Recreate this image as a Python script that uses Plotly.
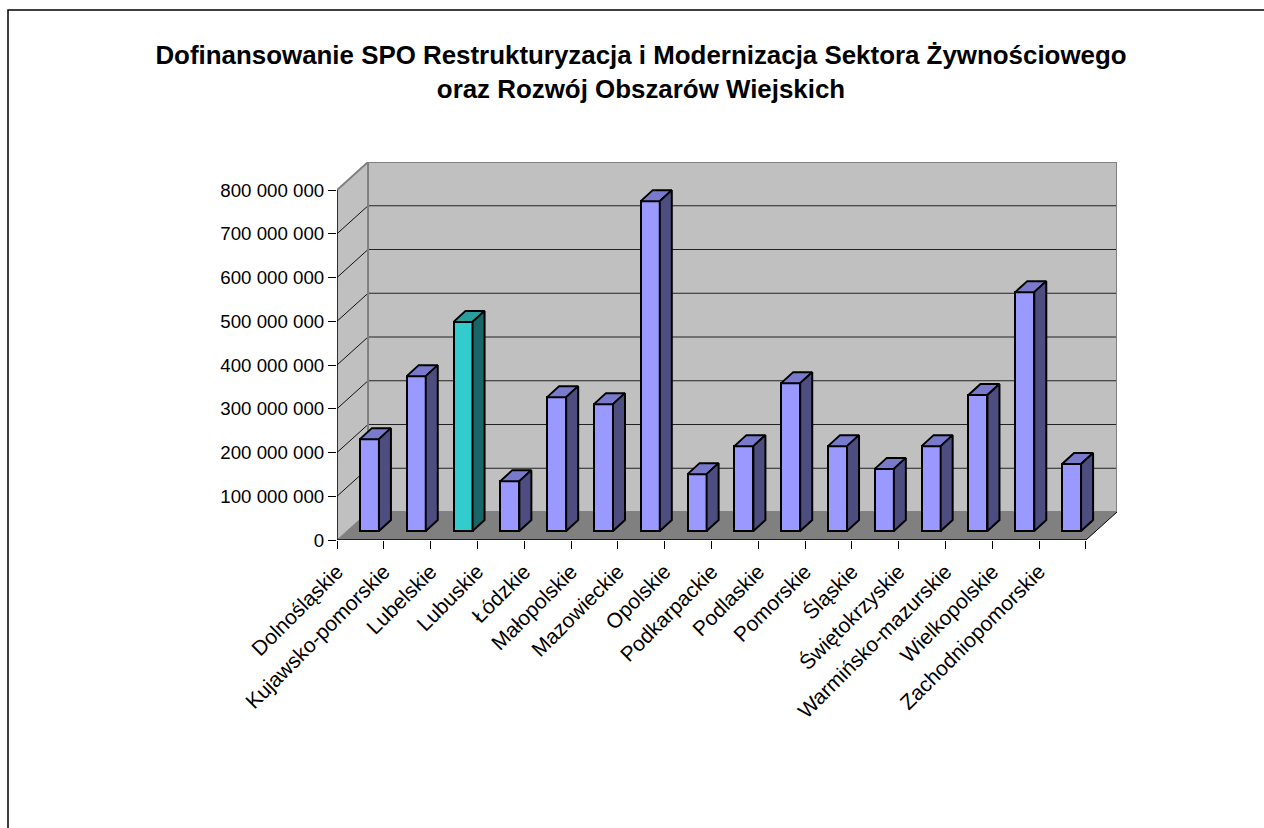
import plotly.graph_objects as go

TITLE_1 = "Dofinansowanie SPO Restrukturyzacja i Modernizacja Sektora Żywnościowego"
TITLE_2 = "oraz Rozwój Obszarów Wiejskich"

regions = ["Dolnośląskie", "Kujawsko-pomorskie", "Lubelskie", "Lubuskie", "Łódzkie",
           "Małopolskie", "Mazowieckie", "Opolskie", "Podkarpackie", "Podlaskie",
           "Pomorskie", "Śląskie", "Świętokrzyskie", "Warmińsko-mazurskie",
           "Wielkopolskie", "Zachodniopomorskie"]
funding = [210e6, 354e6, 478e6, 114e6, 306e6, 290e6, 754e6, 130e6,
           194e6, 338e6, 194e6, 142e6, 194e6, 311e6, 546e6, 153e6]
y_ticks = [0, 100e6, 200e6, 300e6, 400e6, 500e6, 600e6, 700e6, 800e6]
y_labels = ["0", "100 000 000", "200 000 000", "300 000 000", "400 000 000",
            "500 000 000", "600 000 000", "700 000 000", "800 000 000"]
highlight = "Lubelskie"

# geometry of the fake 3-D box (pixels → data units)
PX_X = 46.75          # pixels per category
PX_Y = 43.75 / 100e6  # pixels per value unit
L, R, T, B = 337, 1117, 162, 540
WALL_DX = 31 / PX_X
WALL_DY = 28 / PX_Y
BAR_W = 19 / PX_X
BAR_DX = 12 / PX_X
BAR_DY = 11 / PX_Y
BAR_SHIFT_X = 9 / PX_X
BAR_SHIFT_Y = 9 / PX_Y
N = len(regions)
YMAX = y_ticks[-1]

shapes = []
GREY = "#808080"
WALL = "#C0C0C0"
def poly(pts, fill, line=None, width=0):
    path = "M" + "L".join(f"{x},{y}" for x, y in pts) + "Z"
    shapes.append(dict(type="path", path=path, fillcolor=fill, layer="below",
                       line=dict(color=line or fill, width=width)))
def seg(x0, y0, x1, y1, color, width):
    shapes.append(dict(type="line", x0=x0, y0=y0, x1=x1, y1=y1, layer="below",
                       line=dict(color=color, width=width)))

# side wall, back wall, floor
poly([(0, 0), (WALL_DX, WALL_DY), (WALL_DX, YMAX + WALL_DY), (0, YMAX)], WALL)
poly([(WALL_DX, WALL_DY), (N + WALL_DX, WALL_DY), (N + WALL_DX, YMAX + WALL_DY), (WALL_DX, YMAX + WALL_DY)], WALL)
poly([(0, 0), (N, 0), (N + WALL_DX, WALL_DY), (WALL_DX, WALL_DY)], GREY)
# grid
for v in y_ticks[1:-1]:
    seg(0, v, WALL_DX, v + WALL_DY, "#111111", 1)
    seg(WALL_DX, v + WALL_DY, N + WALL_DX, v + WALL_DY, "#222222", 1)
# box edges
seg(0, YMAX, WALL_DX, YMAX + WALL_DY, GREY, 2)
seg(WALL_DX, YMAX + WALL_DY, N + WALL_DX, YMAX + WALL_DY, GREY, 2)
seg(WALL_DX, WALL_DY, WALL_DX, YMAX + WALL_DY, GREY, 2)
seg(N + WALL_DX, WALL_DY, N + WALL_DX, YMAX + WALL_DY, GREY, 2)
seg(WALL_DX, WALL_DY, N + WALL_DX, WALL_DY, GREY, 2)
seg(N, 0, N + WALL_DX, WALL_DY, "#000000", 1)
seg(0, 0, WALL_DX, WALL_DY, GREY, 1)
seg(0, 0, N, 0, "#000000", 1.5)
seg(0, 0, 0, YMAX, "#000000", 1.5)

# chart-area border (runs off the right and bottom of the page)
W_PLOT, H_PLOT = R - L, B - T
shapes.append(dict(type="rect", xref="paper", yref="paper",
                   x0=(8 - L) / W_PLOT, x1=(1300 - L) / W_PLOT,
                   y0=(B - 860) / H_PLOT, y1=(B - 10) / H_PLOT, layer="below",
                   line=dict(color="#000000", width=1.5), fillcolor="rgba(0,0,0,0)"))

fig = go.Figure()
centers = [i + 0.5 + BAR_SHIFT_X for i in range(N)]
fronts = ["#33CCCC" if r == highlight else "#9999FF" for r in regions]
fig.add_trace(go.Bar(x=centers, y=funding, base=[BAR_SHIFT_Y] * N, width=BAR_W,
                     marker=dict(color=fronts, line=dict(color="#000000", width=2)),
                     hoverinfo="skip", showlegend=False))
for r, c, v in zip(regions, centers, funding):
    hi = r == highlight
    x0, x1 = c - BAR_W / 2, c + BAR_W / 2
    y0, y1 = BAR_SHIFT_Y, BAR_SHIFT_Y + v
    fig.add_trace(go.Scatter(x=[x0, x1, x1 + BAR_DX, x0 + BAR_DX, x0],
                             y=[y1, y1, y1 + BAR_DY, y1 + BAR_DY, y1],
                             fill="toself", fillcolor="#299E9E" if hi else "#7A7ACC",
                             mode="lines", line=dict(color="#000000", width=2),
                             hoverinfo="skip", showlegend=False, cliponaxis=False))
    fig.add_trace(go.Scatter(x=[x1, x1 + BAR_DX, x1 + BAR_DX, x1, x1],
                             y=[y0, y0 + BAR_DY, y1 + BAR_DY, y1, y0],
                             fill="toself", fillcolor="#196666" if hi else "#4D4D80",
                             mode="lines", line=dict(color="#000000", width=2),
                             hoverinfo="skip", showlegend=False, cliponaxis=False))

FONT = "Liberation Sans, Arial, sans-serif"
fig.update_layout(
    width=1264, height=828, autosize=False,
    margin=dict(l=L, r=1264 - R, t=T, b=828 - B),
    paper_bgcolor="#FFFFFF", plot_bgcolor="#FFFFFF",
    font=dict(family=FONT, color="#000000", size=18),
    showlegend=False, shapes=shapes,
    title=dict(text="<b>" + TITLE_1 + "<br>" + TITLE_2 + "</b>", font=dict(size=25.9, family=FONT),
               x=641 / 1264, xref="container", xanchor="center",
               y=1 - 64 / 828, yref="container", yanchor="top"),
    xaxis=dict(range=[0, N + WALL_DX], showgrid=False, zeroline=False, showline=False,
               tickmode="array", tickvals=[float(i) for i in range(N)], ticktext=regions,
               tickangle=-45, ticks="outside", ticklen=10, tickcolor="rgba(0,0,0,0)",
               tickfont=dict(size=21, family=FONT),
               minor=dict(tickmode="array", tickvals=list(range(N + 1)), ticks="outside",
                          ticklen=8, tickcolor="#000000", tickwidth=1, showgrid=False)),
    yaxis=dict(range=[0, YMAX + WALL_DY], showgrid=False, zeroline=False, showline=False,
               tickmode="array", tickvals=y_ticks, ticktext=y_labels, ticks="outside",
               ticklen=8, tickcolor="#000000", tickwidth=1, tickfont=dict(size=18.7, family=FONT)),
    bargap=0,
)
fig.write_html("out.html", post_script="document.body.style.margin='0';",
               config={"displayModeBar": False})
